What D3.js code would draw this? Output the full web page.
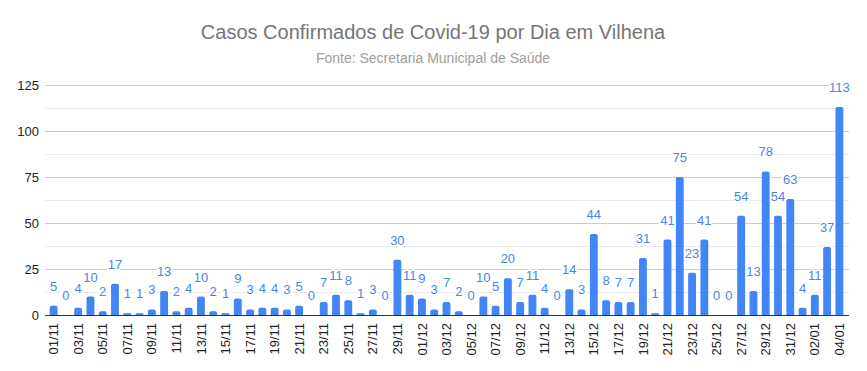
<!DOCTYPE html>
<html>
<head>
<meta charset="utf-8">
<script src="https://cdn.jsdelivr.net/npm/d3@7"></script>
<style>
    body { margin: 0; background: #fff; }
    svg { display: block; font-family: Arial, "Liberation Sans", sans-serif; }
</style>
</head>
<body>
<svg id="chart" width="867" height="371"></svg>
<script>
// dias (01/11 a 04/01)
const days = [
    '01/11', '02/11', '03/11', '04/11', '05/11', '06/11', '07/11', '08/11', '09/11', '10/11',
    '11/11', '12/11', '13/11', '14/11', '15/11', '16/11', '17/11', '18/11', '19/11', '20/11',
    '21/11', '22/11', '23/11', '24/11', '25/11', '26/11', '27/11', '28/11', '29/11', '30/11',
    '01/12', '02/12', '03/12', '04/12', '05/12', '06/12', '07/12', '08/12', '09/12', '10/12',
    '11/12', '12/12', '13/12', '14/12', '15/12', '16/12', '17/12', '18/12', '19/12', '20/12',
    '21/12', '22/12', '23/12', '24/12', '25/12', '26/12', '27/12', '28/12', '29/12', '30/12',
    '31/12', '01/01', '02/01', '03/01', '04/01'
];

// casos confirmados por dia
const cases = [
    5, 0, 4, 10, 2, 17, 1, 1, 3, 13,
    2, 4, 10, 2, 1, 9, 3, 4, 4, 3,
    5, 0, 7, 11, 8, 1, 3, 0, 30, 11,
    9, 3, 7, 2, 0, 10, 5, 20, 7, 11,
    4, 0, 14, 3, 44, 8, 7, 7, 31, 1,
    41, 75, 23, 41, 0, 0, 54, 13, 78, 54,
    63, 4, 11, 37, 113
];

const yTicks = [0, 25, 50, 75, 100, 125];
const yMinor = [12.5, 37.5, 62.5, 87.5, 112.5];

const title = 'Casos Confirmados de Covid-19 por Dia em Vilhena';
const subtitle = 'Fonte: Secretaria Municipal de Saúde';

const data = days.map((d, i) => ({ day: d, value: cases[i] }));

const svg = d3.select('#chart');
const margin = { left: 46, right: 20, top: 85, bottom: 56 };
const width = 867, height = 371;

const x = d3.scaleBand()
    .domain(days)
    .range([margin.left, width - margin.right])
    .paddingInner(0.36)
    .paddingOuter(0.3);

const y = d3.scaleLinear()
    .domain([0, 125])
    .range([height - margin.bottom, margin.top]);

// titles
svg.append('text')
    .attr('x', 433)
    .attr('y', 39)
    .attr('text-anchor', 'middle')
    .style('font-size', '20px')
    .style('fill', '#757575')
    .text(title);

svg.append('text')
    .attr('x', 433)
    .attr('y', 63)
    .attr('text-anchor', 'middle')
    .style('font-size', '14px')
    .style('fill', '#9e9e9e')
    .text(subtitle);

// grid
svg.append('g')
    .selectAll('line')
    .data(yMinor)
    .join('line')
    .attr('x1', margin.left - 1)
    .attr('x2', width - margin.right + 2)
    .attr('y1', (d) => Math.round(y(d)) + 0.5)
    .attr('y2', (d) => Math.round(y(d)) + 0.5)
    .style('stroke', '#ebebeb');

svg.append('g')
    .selectAll('line')
    .data(yTicks.slice(1))
    .join('line')
    .attr('x1', margin.left - 1)
    .attr('x2', width - margin.right + 2)
    .attr('y1', (d) => Math.round(y(d)) + 0.5)
    .attr('y2', (d) => Math.round(y(d)) + 0.5)
    .style('stroke', '#cccccc');

// y axis labels
const yAxis = svg.append('g')
    .attr('transform', `translate(${margin.left - 7},0)`)
    .call(d3.axisLeft(y).tickValues(yTicks).tickSize(0).tickPadding(0));
yAxis.select('.domain').remove();
yAxis.selectAll('text')
    .style('font-size', '13px')
    .style('fill', '#222')
    .style('font-family', 'Arial, "Liberation Sans", sans-serif');

// bars
const r = 2;
svg.append('g')
    .selectAll('path')
    .data(data.filter((d) => d.value > 0))
    .join('path')
    .attr('d', (d) => {
        const x0 = x(d.day), w = x.bandwidth();
        const y0 = y(d.value), y1 = y(0);
        const rr = Math.min(r, (y1 - y0) / 2);
        return `M${x0},${y1}V${y0 + rr}Q${x0},${y0} ${x0 + rr},${y0}` +
            `H${x0 + w - rr}Q${x0 + w},${y0} ${x0 + w},${y0 + rr}V${y1}Z`;
    })
    .style('fill', '#4285f4');

// baseline
svg.append('line')
    .attr('x1', margin.left - 1)
    .attr('x2', width - margin.right + 2)
    .attr('y1', Math.round(y(0)) + 0.5)
    .attr('y2', Math.round(y(0)) + 0.5)
    .style('stroke', '#333');

// value labels
svg.append('g')
    .selectAll('text')
    .data(data)
    .join('text')
    .attr('x', (d) => x(d.day) + x.bandwidth() / 2)
    .attr('y', (d) => y(d.value) - 15)
    .attr('text-anchor', 'middle')
    .style('font-size', '13px')
    .style('fill', '#4a86e8')
    .style('stroke', '#fff')
    .style('stroke-width', 3)
    .style('paint-order', 'stroke')
    .text((d) => d.value);

// x axis labels (every other day)
const xAxis = svg.append('g')
    .attr('transform', `translate(0,${y(0)})`)
    .call(d3.axisBottom(x)
        .tickValues(days.filter((d, i) => i % 2 === 0))
        .tickSize(0));
xAxis.select('.domain').remove();
xAxis.selectAll('text')
    .attr('transform', 'rotate(-90)')
    .attr('x', -8)
    .attr('y', 0)
    .attr('dy', '0.35em')
    .attr('text-anchor', 'end')
    .style('font-size', '13px')
    .style('fill', '#222')
    .style('font-family', 'Arial, "Liberation Sans", sans-serif');
</script>
</body>
</html>
